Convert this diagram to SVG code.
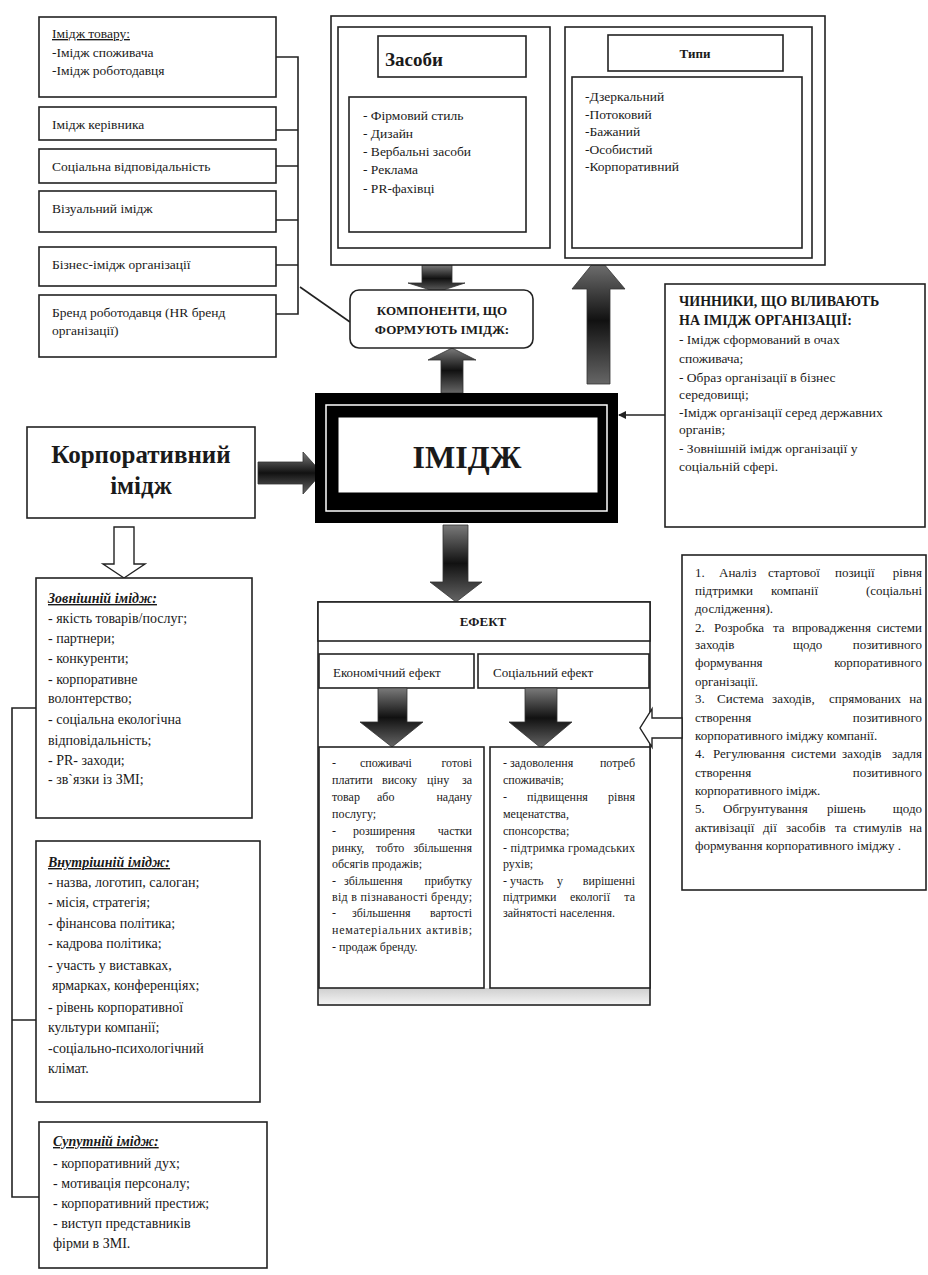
<svg xmlns="http://www.w3.org/2000/svg" width="928" height="1275" viewBox="0 0 928 1275">
<defs>
<style>
.t{font-family:"Liberation Serif","DejaVu Serif",serif;fill:#1a1a1a;font-size:13.5px}
.b{font-weight:bold}
.c{text-anchor:middle}
.e{text-anchor:end}
.u{text-decoration:underline}
.box{fill:#fff;stroke:#222;stroke-width:1.6}
.ln{fill:none;stroke:#222;stroke-width:1.6}
.arr{fill:url(#gv);stroke:#333;stroke-width:0.8}
.oarr{fill:#fff;stroke:#222;stroke-width:1.4}
.s12{font-size:12px}
.s13{font-size:13px}
.s14{font-size:14px}
</style>
<linearGradient id="gv" x1="0" y1="0" x2="0" y2="1">
<stop offset="0" stop-color="#7a7a7a"/><stop offset="0.5" stop-color="#111"/><stop offset="1" stop-color="#666"/>
</linearGradient>
<linearGradient id="gs" x1="0" y1="0" x2="0" y2="1">
<stop offset="0" stop-color="#cfcfcf"/><stop offset="1" stop-color="#f2f2f2"/>
</linearGradient>
<marker id="ah" markerWidth="8" markerHeight="8" refX="7" refY="4" orient="auto" markerUnits="userSpaceOnUse">
<path d="M0,0 L8,4 L0,8 Z" fill="#222"/>
</marker>
</defs>
<rect width="928" height="1275" fill="#fff"/>

<g id="connectors">
<path class="ln" d="M276,57 H298 V314 H276 M276,130 H298 M276,166 H298 M276,220 H298 M276,265 H298"/>
<line class="ln" x1="300" y1="287" x2="350" y2="322" stroke-width="1.2"/>
<line class="ln" x1="665" y1="415" x2="619" y2="415" marker-end="url(#ah)" stroke-width="1.2"/>
<path class="ln" d="M36,708 H12 V1197 H39 M12,1020 H36"/>
<polygon class="arr" points="422,265 452,265 452,283 465,283 437,292 408,283 422,283"/>
<polygon class="arr" points="441,393 463,393 463,360 476,360 452,348 428,360 441,360"/>
<polygon class="arr" points="587,384 610,384 610,289 625,289 598,257 572,289 587,289"/>
<polygon class="arr" points="258,462 303,462 303,452 322,473 303,494 303,484 258,484"/>
<polygon class="arr" points="443,525 468,525 468,582 482,582 456,602 430,582 443,582"/>
<polygon class="oarr" points="114,527 134,527 134,564 145,564 124,578 103,564 114,564"/>
</g>

<g id="n-tovar"><rect class="box" x="39" y="17" width="237" height="80"/>
<text class="t u" x="52" y="38">Імідж товару:</text>
<text class="t" x="52" y="57">-Імідж споживача</text>
<text class="t" x="52" y="75">-Імідж роботодавця</text></g>
<g id="n-kerivnyk"><rect class="box" x="39" y="107" width="237" height="33"/><text class="t" x="52" y="129">Імідж керівника</text></g>
<g id="n-social"><rect class="box" x="39" y="149" width="237" height="34"/><text class="t" x="52" y="171">Соціальна відповідальність</text></g>
<g id="n-visual"><rect class="box" x="39" y="191" width="237" height="41"/><text class="t" x="52" y="213">Візуальний імідж</text></g>
<g id="n-business"><rect class="box" x="39" y="247" width="237" height="39"/><text class="t" x="52" y="269">Бізнес-імідж організації</text></g>
<g id="n-brand"><rect class="box" x="39" y="295" width="237" height="62"/>
<text class="t" x="52" y="317">Бренд роботодавця (HR бренд</text>
<text class="t" x="52" y="335">організації)</text></g>

<g id="n-top">
<rect class="box" x="331" y="16" width="494" height="249"/>
<rect class="box" x="338" y="27" width="212" height="221"/>
<rect class="box" x="565" y="27" width="247" height="231"/>
</g>
<g id="n-zasoby">
<rect class="box" x="378" y="36" width="148" height="41"/>
<text class="t b" x="385" y="66" style="font-size:19px">Засоби</text>
<rect class="box" x="349" y="97" width="177" height="135"/>
<text class="t" x="363" y="120">- Фірмовий стиль</text>
<text class="t" x="363" y="138">- Дизайн</text>
<text class="t" x="363" y="156">- Вербальні засоби</text>
<text class="t" x="363" y="174">- Реклама</text>
<text class="t" x="363" y="193">- PR-фахівці</text>
</g>
<g id="n-typy">
<rect class="box" x="608" y="35" width="175" height="36"/>
<text class="t b c s13" x="695" y="58">Типи</text>
<rect class="box" x="572" y="77" width="230" height="171"/>
<text class="t" x="585" y="101">-Дзеркальний</text>
<text class="t" x="585" y="118.5">-Потоковий</text>
<text class="t" x="585" y="136">-Бажаний</text>
<text class="t" x="585" y="153.5">-Особистий</text>
<text class="t" x="585" y="171">-Корпоративний</text>
</g>

<g id="n-components">
<rect class="box" x="350" y="290" width="183" height="58" rx="9"/>
<text class="t b c s13" x="442" y="315">КОМПОНЕНТИ, ЩО</text>
<text class="t b c s13" x="442" y="334">ФОРМУЮТЬ ІМІДЖ:</text>
</g>

<g id="n-imidzh">
<rect x="315" y="393" width="303" height="130" fill="#000"/>
<rect x="326" y="405" width="281" height="106" fill="none" stroke="#fff" stroke-width="1.5"/>
<rect x="338" y="417" width="260" height="76" fill="#fff" stroke="#000" stroke-width="1"/>
<text class="t b c" x="467" y="468" style="font-size:32px">ІМІДЖ</text>
</g>

<g id="n-factors">
<rect class="box" x="665" y="284" width="260" height="243"/>
<text class="t b s14" x="679" y="306">ЧИННИКИ, ЩО ВІЛИВАЮТЬ</text>
<text class="t b s14" x="679" y="325">НА ІМІДЖ ОРГАНІЗАЦІЇ:</text>
<text class="t" x="679" y="344">- Імідж сформований в очах</text>
<text class="t" x="679" y="363">споживача;</text>
<text class="t" x="679" y="382">- Образ організації в бізнес</text>
<text class="t" x="679" y="399">середовищі;</text>
<text class="t" x="679" y="417">-Імідж  організації серед державних</text>
<text class="t" x="679" y="434">органів;</text>
<text class="t" x="679" y="453">- Зовнішній імідж організації у</text>
<text class="t" x="679" y="471">соціальній сфері.</text>
</g>

<g id="n-corp">
<rect class="box" x="27" y="427" width="228" height="91"/>
<text class="t b c" x="141" y="463" style="font-size:25px">Корпоративний</text>
<text class="t b c" x="141" y="494" style="font-size:25px">імідж</text>
</g>

<g id="n-effect">
<rect class="box" x="318" y="602" width="332" height="403"/>
<rect x="319" y="988" width="330" height="16" fill="url(#gs)"/>
<rect class="box" x="318" y="602" width="332" height="39"/>
<text class="t b c s13" x="483" y="626">ЕФЕКТ</text>
<rect class="box" x="319" y="654" width="155" height="34"/>
<text class="t s13" x="333" y="677">Економічний  ефект</text>
<rect class="box" x="478" y="654" width="171" height="34"/>
<text class="t s13" x="493" y="677">Соціальний ефект</text>
</g>
<g id="effect-arrows">
<polygon class="arr" points="378,688 407,688 407,722 423,722 392,747 360,722 378,722"/>
<polygon class="arr" points="525,688 557,688 557,722 572,722 541,748 509,722 525,722"/>
</g>
<g id="n-econ-list">
<rect class="box" x="319" y="747" width="165" height="241"/>
<text class="t s12" x="332" y="767">-</text><text class="t s12" x="360" y="767">споживачі</text><text class="t s12 e" x="472" y="767">готові</text>
<text class="t s12" x="332" y="784">платити</text><text class="t s12" x="382" y="784">високу</text><text class="t s12" x="427" y="784">ціну</text><text class="t s12 e" x="472" y="784">за</text>
<text class="t s12" x="332" y="801">товар</text><text class="t s12" x="377" y="801">або</text><text class="t s12 e" x="472" y="801">надану</text>
<text class="t s12" x="332" y="818">послугу;</text>
<text class="t s12" x="332" y="835">-</text><text class="t s12" x="353" y="835">розширення</text><text class="t s12 e" x="472" y="835">частки</text>
<text class="t s12" x="332" y="852">ринку,</text><text class="t s12" x="376" y="852">тобто</text><text class="t s12 e" x="472" y="852">збільшення</text>
<text class="t s12" x="332" y="868">обсягів продажів;</text>
<text class="t s12" x="332" y="885">-</text><text class="t s12" x="344" y="885">збільшення</text><text class="t s12 e" x="472" y="885">прибутку</text>
<text class="t s12" x="332" y="901" textLength="140" lengthAdjust="spacing">від в пізнаваності бренду;</text>
<text class="t s12" x="332" y="917">-</text><text class="t s12" x="352" y="917">збільшення</text><text class="t s12 e" x="472" y="917">вартості</text>
<text class="t s12" x="332" y="934" textLength="140" lengthAdjust="spacing">нематеріальних активів;</text>
<text class="t s12" x="332" y="951">- продаж бренду.</text>
</g>
<g id="n-soc-list">
<rect class="box" x="490" y="747" width="160" height="241"/>
<text class="t s12" x="503" y="767">- задоволення</text><text class="t s12 e" x="635" y="767">потреб</text>
<text class="t s12" x="503" y="784">споживачів;</text>
<text class="t s12" x="503" y="801">-</text><text class="t s12" x="527" y="801">підвищення</text><text class="t s12 e" x="635" y="801">рівня</text>
<text class="t s12" x="503" y="818">меценатства,</text>
<text class="t s12" x="503" y="835">спонсорства;</text>
<text class="t s12" x="503" y="852" textLength="132" lengthAdjust="spacing">- підтримка громадських</text>
<text class="t s12" x="503" y="868">рухів;</text>
<text class="t s12" x="503" y="885">- участь</text><text class="t s12" x="557" y="885">у</text><text class="t s12 e" x="635" y="885">вирішенні</text>
<text class="t s12" x="503" y="901">підтримки</text><text class="t s12" x="570" y="901">екології</text><text class="t s12 e" x="635" y="901">та</text>
<text class="t s12" x="503" y="917">зайнятості населення.</text>
</g>

<g id="n-steps">
<rect class="box" x="682" y="555" width="244" height="335"/>
<polygon class="oarr" points="682,718 652,718 652,709 640,728 652,747 652,738 682,738"/>
<text class="t s13" x="695" y="577">1.</text><text class="t s13" x="719" y="577">Аналіз</text><text class="t s13" x="768" y="577">стартової</text><text class="t s13" x="835" y="577">позиції</text><text class="t s13 e" x="922" y="577">рівня</text>
<text class="t s13" x="695" y="595">підтримки</text><text class="t s13" x="771" y="595">компанії</text><text class="t s13 e" x="922" y="595">(соціальні</text>
<text class="t s13" x="695" y="613">дослідження).</text>
<text class="t s13" x="695" y="632">2.</text><text class="t s13" x="714" y="632">Розробка</text><text class="t s13" x="773" y="632">та</text><text class="t s13" x="792" y="632">впровадження</text><text class="t s13 e" x="922" y="632">системи</text>
<text class="t s13" x="695" y="649">заходів</text><text class="t s13" x="793" y="649">щодо</text><text class="t s13 e" x="922" y="649">позитивного</text>
<text class="t s13" x="695" y="667">формування</text><text class="t s13 e" x="922" y="667">корпоративного</text>
<text class="t s13" x="695" y="686">організації.</text>
<text class="t s13" x="695" y="703">3.</text><text class="t s13" x="717" y="703">Система</text><text class="t s13" x="772" y="703">заходів,</text><text class="t s13" x="829" y="703">спрямованих</text><text class="t s13 e" x="922" y="703">на</text>
<text class="t s13" x="695" y="722">створення</text><text class="t s13 e" x="922" y="722">позитивного</text>
<text class="t s13" x="695" y="740">корпоративного іміджу компанії.</text>
<text class="t s13" x="695" y="758">4.</text><text class="t s13" x="713" y="758">Регулювання</text><text class="t s13" x="791" y="758">системи</text><text class="t s13" x="842" y="758">заходів</text><text class="t s13 e" x="922" y="758">задля</text>
<text class="t s13" x="695" y="777">створення</text><text class="t s13 e" x="922" y="777">позитивного</text>
<text class="t s13" x="695" y="795">корпоративного імідж.</text>
<text class="t s13" x="695" y="813">5.</text><text class="t s13" x="723" y="813">Обгрунтування</text><text class="t s13" x="827" y="813">рішень</text><text class="t s13 e" x="922" y="813">щодо</text>
<text class="t s13" x="695" y="832">активізації</text><text class="t s13" x="763" y="832">дії</text><text class="t s13" x="786" y="832">засобів</text><text class="t s13" x="835" y="832">та</text><text class="t s13" x="853" y="832">стимулів</text><text class="t s13 e" x="922" y="832">на</text>
<text class="t s13" x="695" y="850">формування корпоративного іміджу .</text>
</g>

<g id="n-external">
<rect class="box" x="36" y="578" width="216" height="240"/>
<text class="t b u s14" x="48" y="603" font-style="italic">Зовнішній імідж:</text>
<text class="t s14" x="48" y="623">- якість товарів/послуг;</text>
<text class="t s14" x="48" y="643">- партнери;</text>
<text class="t s14" x="48" y="663">- конкуренти;</text>
<text class="t s14" x="48" y="684">- корпоративне</text>
<text class="t s14" x="48" y="703">волонтерство;</text>
<text class="t s14" x="48" y="724">- соціальна екологічна</text>
<text class="t s14" x="48" y="745">відповідальність;</text>
<text class="t s14" x="48" y="765">- PR- заходи;</text>
<text class="t s14" x="48" y="784">- зв`язки із ЗМІ;</text>
</g>

<g id="n-internal">
<rect class="box" x="36" y="841" width="224" height="261"/>
<text class="t b u s14" x="48" y="867" font-style="italic">Внутрішній імідж:</text>
<text class="t s14" x="48" y="887">- назва, логотип, салоган;</text>
<text class="t s14" x="48" y="907">- місія, стратегія;</text>
<text class="t s14" x="48" y="928">- фінансова політика;</text>
<text class="t s14" x="48" y="948">- кадрова політика;</text>
<text class="t s14" x="48" y="970">- участь у виставках,</text>
<text class="t s14" x="52" y="990">ярмарках, конференціях;</text>
<text class="t s14" x="48" y="1012">- рівень корпоративної</text>
<text class="t s14" x="48" y="1032">культури компанії;</text>
<text class="t s14" x="48" y="1053">-соціально-психологічний</text>
<text class="t s14" x="48" y="1073">клімат.</text>
</g>

<g id="n-accompanying">
<rect class="box" x="39" y="1122" width="228" height="146"/>
<text class="t b u s14" x="53" y="1146" font-style="italic">Супутній імідж:</text>
<text class="t s14" x="53" y="1168">- корпоративний дух;</text>
<text class="t s14" x="53" y="1188">- мотивація персоналу;</text>
<text class="t s14" x="53" y="1208">- корпоративний престиж;</text>
<text class="t s14" x="53" y="1228">- виступ представників</text>
<text class="t s14" x="53" y="1248">фірми в ЗМІ.</text>
</g>
</svg>
